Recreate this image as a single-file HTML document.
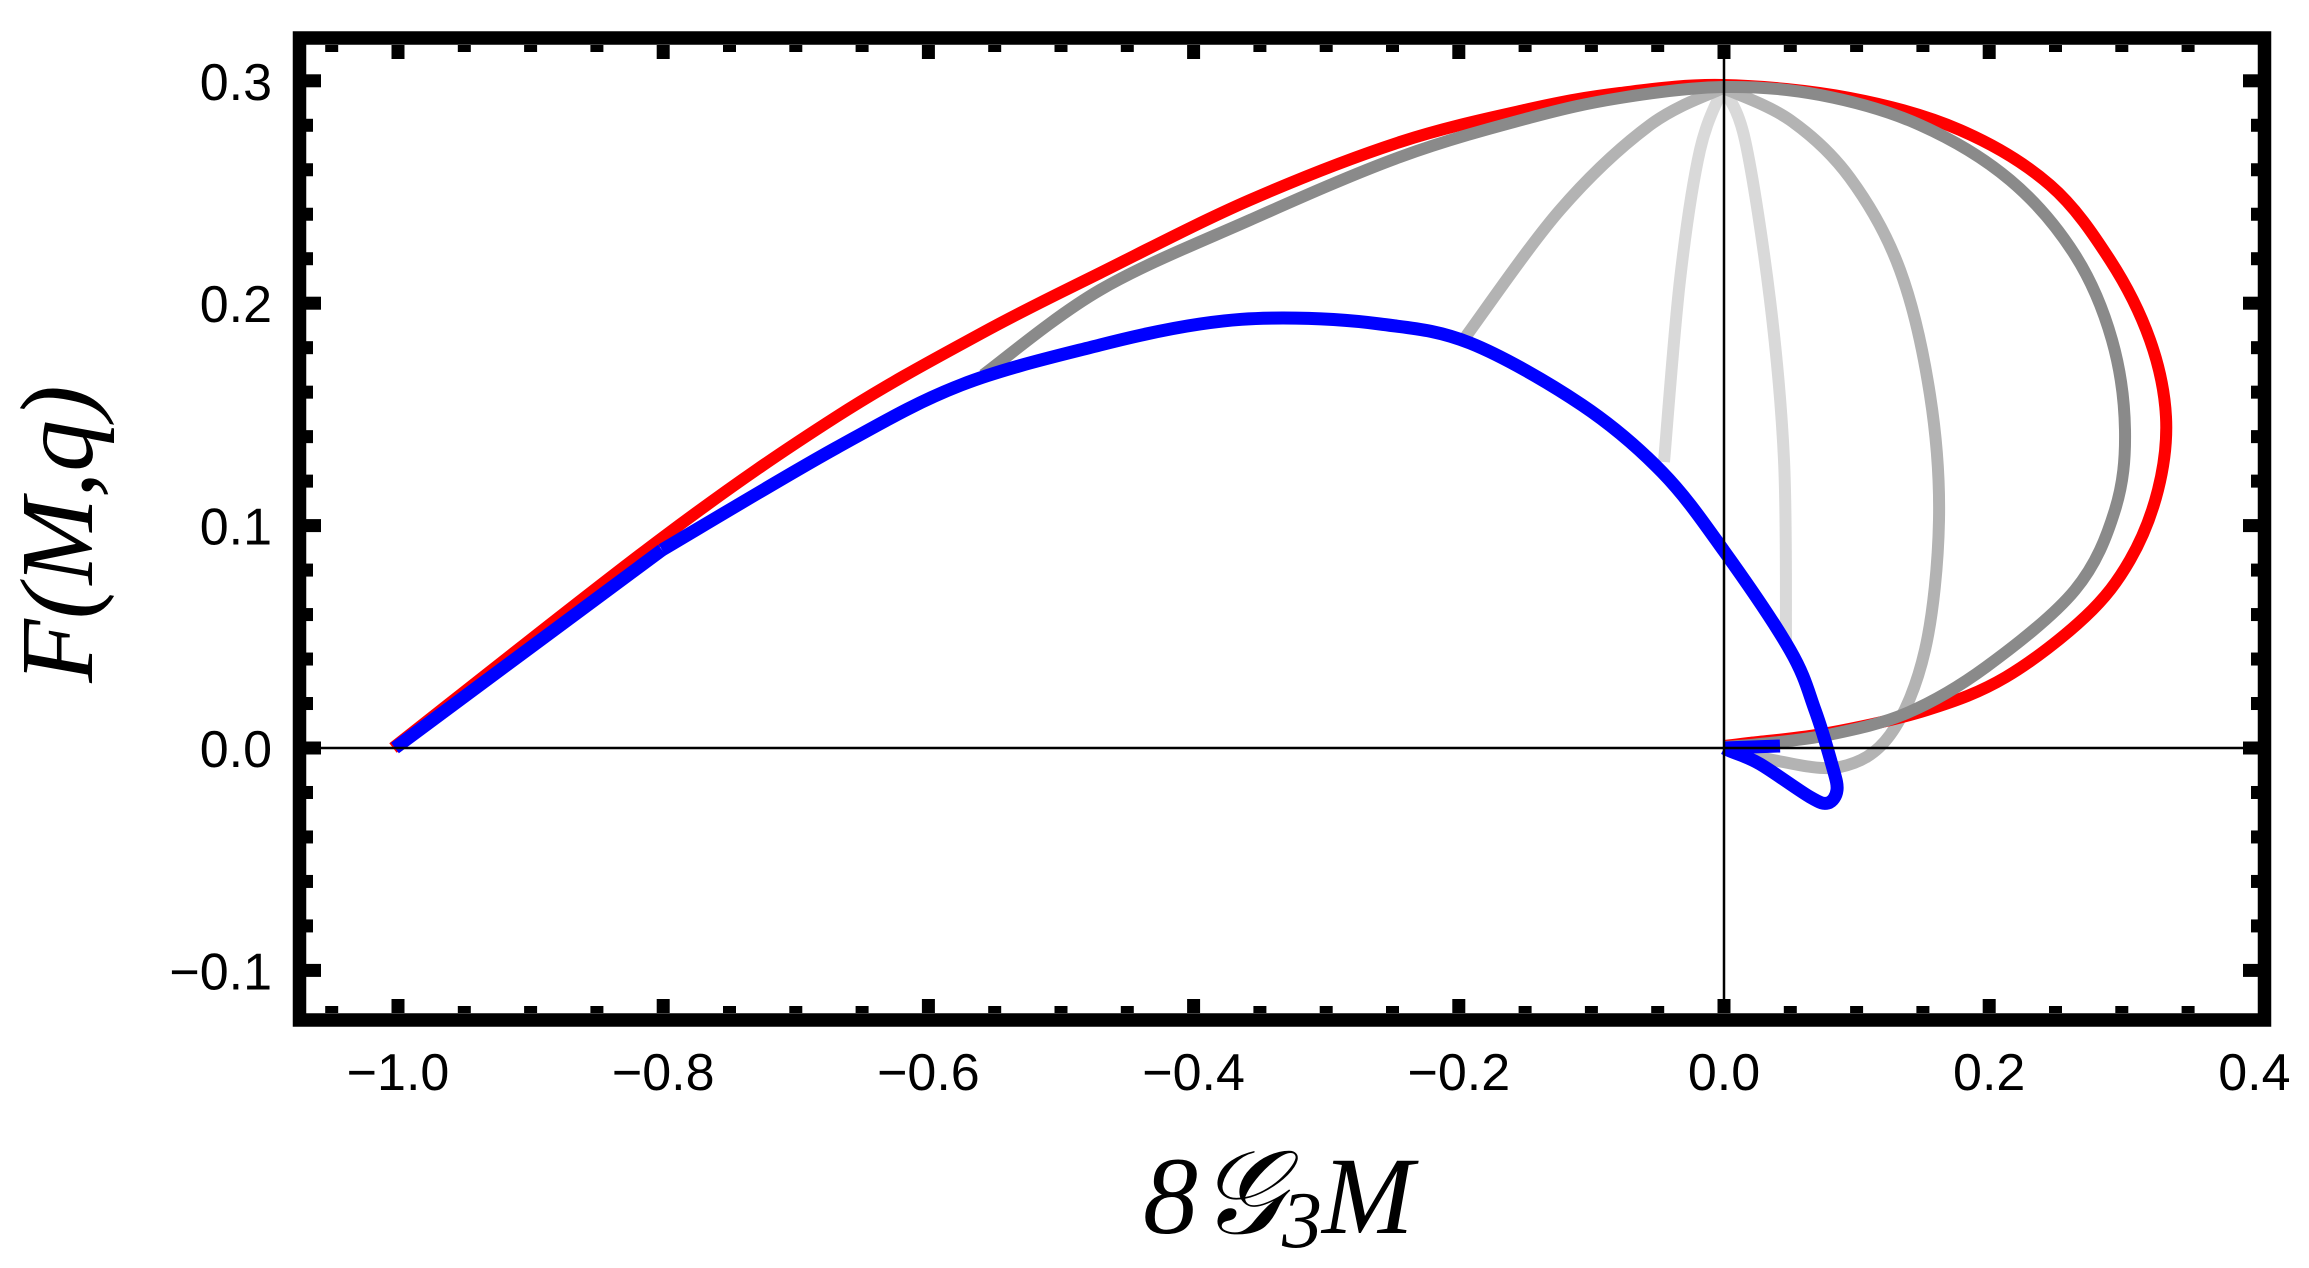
<!DOCTYPE html>
<html><head><meta charset="utf-8"><style>
html,body{margin:0;padding:0;background:#fff;}
svg{display:block;}
.tl{font-family:"Liberation Sans",sans-serif;font-size:52px;fill:#000;}
</style></head><body>
<svg id="s" width="2309" height="1268" viewBox="0 0 2309 1268" xmlns="http://www.w3.org/2000/svg">
<rect x="0" y="0" width="2309" height="1268" fill="#fff"/>
<g id="curves" fill="none" stroke-linejoin="round" stroke-linecap="butt"></g>
<line x1="306" y1="748" x2="2258" y2="748" stroke="#000" stroke-width="2.5"/>
<line x1="1724" y1="45" x2="1724" y2="1013" stroke="#000" stroke-width="2.5"/>
<g id="ticks" fill="#000"></g>
<rect x="299.5" y="38" width="1965" height="982" fill="none" stroke="#000" stroke-width="13.5"/>
<g id="labels"></g>
<text x="1143" y="1233" font-family="Liberation Serif,serif" font-style="italic" font-size="110">8<tspan font-size="118">𝒢</tspan><tspan font-size="80" dy="14">3</tspan><tspan dy="-14">M</tspan></text>
<text transform="translate(92,534) rotate(-90)" text-anchor="middle" font-family="Liberation Serif,serif" font-style="italic" font-size="104">F(M,q)</text>
</svg>
<script>
var NS="http://www.w3.org/2000/svg";
function cr(p){var d="M"+p[0][0]+","+p[0][1];for(var i=0;i<p.length-1;i++){var p0=p[i-1]||p[i],p1=p[i],p2=p[i+1],p3=p[i+2]||p2;
var c1=[p1[0]+(p2[0]-p0[0])/6,p1[1]+(p2[1]-p0[1])/6],c2=[p2[0]-(p3[0]-p1[0])/6,p2[1]-(p3[1]-p1[1])/6];
d+=" C"+c1[0].toFixed(1)+","+c1[1].toFixed(1)+" "+c2[0].toFixed(1)+","+c2[1].toFixed(1)+" "+p2[0]+","+p2[1];}return d;}
function add(p,col,w,lin){var e=document.createElementNS(NS,"path");e.setAttribute("d",lin?("M"+p.map(function(a){return a.join(",")}).join(" L")):cr(p));
e.setAttribute("stroke",col);e.setAttribute("stroke-width",w);document.getElementById("curves").appendChild(e);}
// lightest
add([[1664,462],[1680,280],[1700,150],[1723,88]],"#d9d9d9",12);
add([[1723,88],[1745,140],[1770,300],[1784,460],[1786,643]],"#d9d9d9",12);
// light gray
add([[1464,339],[1560,210],[1650,125],[1723,88]],"#b3b3b3",12);
add([[1723,88],[1790,120],[1850,178],[1900,270],[1930,395],[1939,520],[1925,650],[1890,735],[1840,767],[1773,760],[1745,750]],"#b3b3b3",12);
// red
add([[393,748],[662,538],[836,417],[982,333],[1100,273],[1250,200],[1400,142],[1529,109],[1620,93],[1723,85],[1850,98],[1960,130],[2050,185],[2110,260],[2150,340],[2166,417],[2158,490],[2130,560],[2085,617],[2006,677],[1927,710],[1828,733],[1749,743],[1724,746]],"#ff0000",12);
// dark gray
add([[983,375],[1100,290],[1250,220],[1400,157],[1529,118],[1620,98],[1723,87],[1820,95],[1920,125],[2010,180],[2075,255],[2112,340],[2125,430],[2115,510],[2075,590],[1986,667],[1907,713],[1828,735],[1760,744],[1724,747]],"#8a8a8a",12);
// blue
add([[395,748],[662,550]],"#0000ff",13,true);
add([[662,550],[836,448],[961,385],[1100,345],[1200,324],[1283,318],[1380,324],[1470,343],[1582,405],[1662,472],[1724,551],[1790,650],[1815,710],[1832,765],[1837,790],[1828,803],[1810,797],[1760,764],[1730,751],[1724,748]],"#0000ff",13);
add([[1724,748],[1780,746]],"#0000ff",13,true);
// ticks
var T=document.getElementById("ticks");
function r(x,y,w,h){var e=document.createElementNS(NS,"rect");e.setAttribute("x",x);e.setAttribute("y",y);e.setAttribute("width",w);e.setAttribute("height",h);T.appendChild(e);}
function X(v){return 1724+1326*v;}function Y(v){return 748-2224*v;}
for(var i=-21;i<=8;i++){var v=i*0.05,x=X(v);if(x<310||x>2254)continue;var maj=(i%4==0);var L=maj?14:7;
r(x-6.5,1013-L,13,L);r(x-6.5,45,13,L);}
for(var j=-6;j<=15;j++){var v=j*0.02,y=Y(v);if(y<50||y>1008)continue;var maj=(j%5==0);var L=maj?15:7;
r(306,y-6.5,L,13);r(2258-L,y-6.5,L,13);}
var G=document.getElementById("labels");
function t(x,y,s,a){var e=document.createElementNS(NS,"text");e.setAttribute("x",x);e.setAttribute("y",y);e.setAttribute("text-anchor",a);e.setAttribute("class","tl");e.textContent=s;G.appendChild(e);}
[["0.3",0.3],["0.2",0.2],["0.1",0.1],["0.0",0],["\u22120.1",-0.1]].forEach(function(a){t(272,Y(a[1])+19,a[0],"end");});
[["\u22121.0",-1],["\u22120.8",-0.8],["\u22120.6",-0.6],["\u22120.4",-0.4],["\u22120.2",-0.2],["0.0",0],["0.2",0.2],["0.4",0.4]].forEach(function(a){t(X(a[1]),1090,a[0],"middle");});
</script>
</body></html>
